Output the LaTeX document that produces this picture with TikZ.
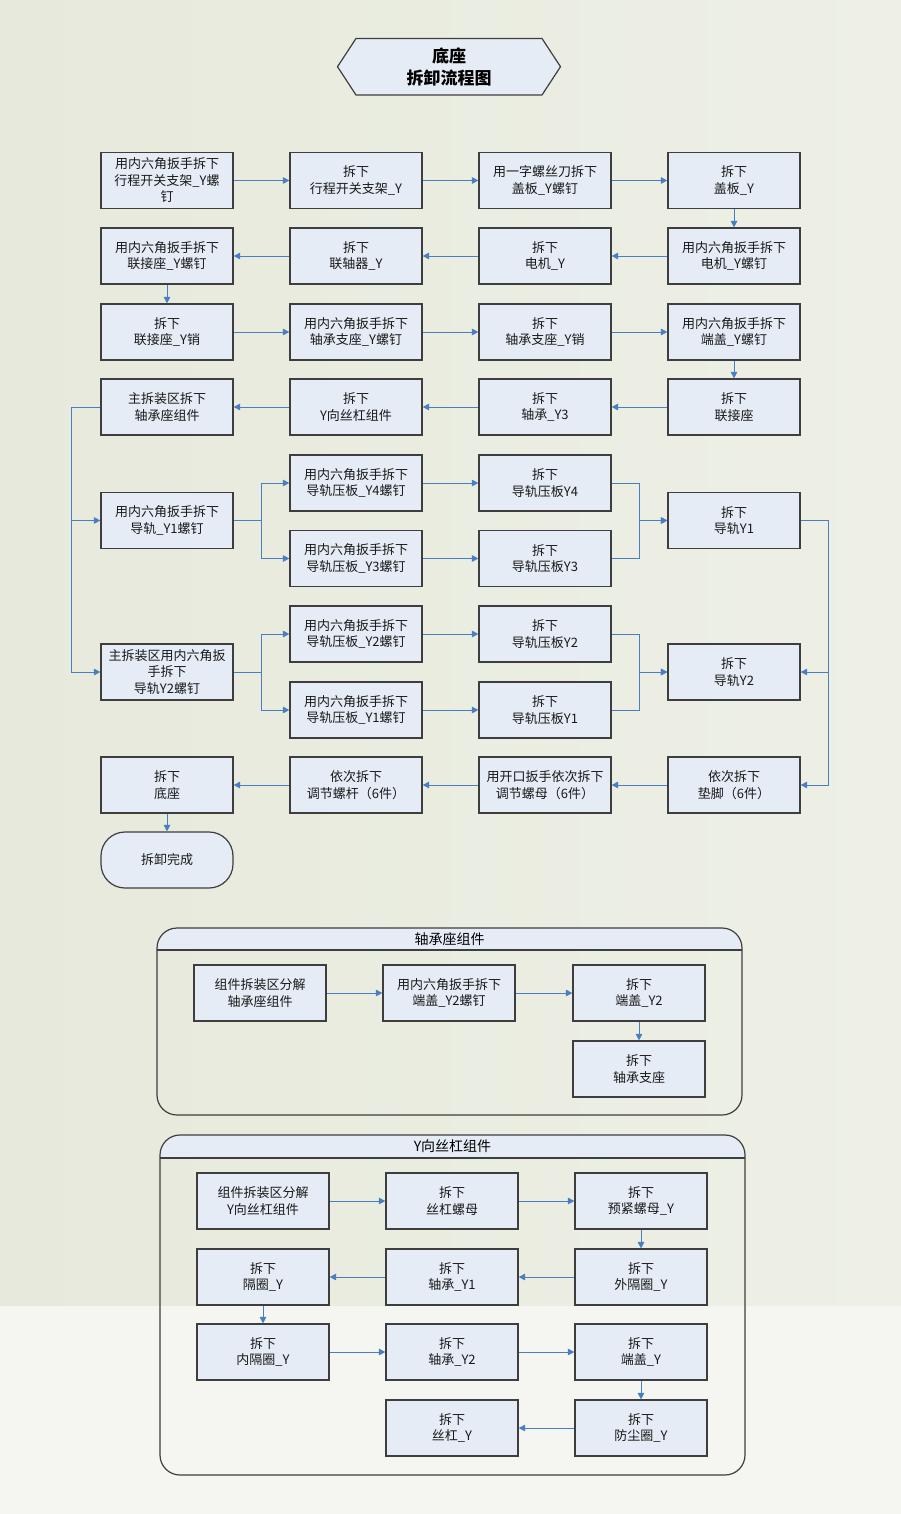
\documentclass[tikz,border=0pt]{standalone}
\usepackage{fontspec}
\setmainfont{Noto Sans CJK SC}
\usepackage{tikz}
\usetikzlibrary{arrows.meta,positioning}
\definecolor{boxfill}{RGB}{230,236,246}
\definecolor{boxline}{RGB}{62,62,62}
\definecolor{flowblue}{RGB}{74,126,196}
\definecolor{paperleft}{RGB}{230,233,219}
\definecolor{paperright}{RGB}{238,240,230}
\definecolor{paperlight}{RGB}{245,246,242}
\tikzset{
  stepbox/.style={
    draw=boxline,
    line width=1.2pt,
    fill=boxfill,
    minimum width=132pt,
    minimum height=56pt,
    text width=128pt,
    align=center,
    inner sep=2pt,
    text=black!90,
    font=\fontsize{13}{16.5}\selectfont
  },
  endbox/.style={stepbox, rounded corners=24pt},
  flowarrow/.style={
    draw=flowblue,
    line width=0.9pt,
    -{Triangle[length=6.5pt,width=6.5pt]}
  },
  grouptitle/.style={font=\fontsize{14}{16}\selectfont, inner sep=0pt},
  groupframe/.style={draw=boxline, line width=1.2pt, rounded corners=20pt}
}

\begin{document}
\begin{tikzpicture}[x=1pt,y=-1pt]
\useasboundingbox (0,0) rectangle (901,1514);
\shade[left color=paperleft, right color=paperright] (0,0) rectangle (901,1306);
\fill[paperlight] (0,1306) rectangle (901,1514);
\filldraw[fill=boxfill, draw=boxline, line width=1.2pt] (337.5,66.7) -- (356,38.5) -- (542,38.5) -- (560.5,66.7) -- (542,95) -- (356,95) -- cycle;
\node[font=\fontsize{17}{22}\selectfont\bfseries, align=center, inner sep=0pt] (title) at (449,66.7) {底座\\拆卸流程图};
\node[stepbox] (a1) at (167,180.5) {用内六角扳手拆下\\行程开关支架\_Y螺\\钉};
\node[stepbox] (a2) at (356,180.5) {拆下\\行程开关支架\_Y};
\node[stepbox] (a3) at (545,180.5) {用一字螺丝刀拆下\\盖板\_Y螺钉};
\node[stepbox] (a4) at (734,180.5) {拆下\\盖板\_Y};
\node[stepbox] (b4) at (734,256) {用内六角扳手拆下\\电机\_Y螺钉};
\node[stepbox] (b3) at (545,256) {拆下\\电机\_Y};
\node[stepbox] (b2) at (356,256) {拆下\\联轴器\_Y};
\node[stepbox] (b1) at (167,256) {用内六角扳手拆下\\联接座\_Y螺钉};
\node[stepbox] (c1) at (167,332) {拆下\\联接座\_Y销};
\node[stepbox] (c2) at (356,332) {用内六角扳手拆下\\轴承支座\_Y螺钉};
\node[stepbox] (c3) at (545,332) {拆下\\轴承支座\_Y销};
\node[stepbox] (c4) at (734,332) {用内六角扳手拆下\\端盖\_Y螺钉};
\node[stepbox] (d4) at (734,407) {拆下\\联接座};
\node[stepbox] (d3) at (545,407) {拆下\\轴承\_Y3};
\node[stepbox] (d2) at (356,407) {拆下\\Y向丝杠组件};
\node[stepbox] (d1) at (167,407) {主拆装区拆下\\轴承座组件};
\node[stepbox] (e0) at (167,520.5) {用内六角扳手拆下\\导轨\_Y1螺钉};
\node[stepbox] (e1) at (356,483) {用内六角扳手拆下\\导轨压板\_Y4螺钉};
\node[stepbox] (e2) at (545,483) {拆下\\导轨压板Y4};
\node[stepbox] (e3) at (356,558.5) {用内六角扳手拆下\\导轨压板\_Y3螺钉};
\node[stepbox] (e4) at (545,558.5) {拆下\\导轨压板Y3};
\node[stepbox] (e5) at (734,520.5) {拆下\\导轨Y1};
\node[stepbox] (f0) at (167,672) {主拆装区用内六角扳\\手拆下\\导轨Y2螺钉};
\node[stepbox] (f1) at (356,634) {用内六角扳手拆下\\导轨压板\_Y2螺钉};
\node[stepbox] (f2) at (545,634) {拆下\\导轨压板Y2};
\node[stepbox] (f3) at (356,710) {用内六角扳手拆下\\导轨压板\_Y1螺钉};
\node[stepbox] (f4) at (545,710) {拆下\\导轨压板Y1};
\node[stepbox] (f5) at (734,672) {拆下\\导轨Y2};
\node[stepbox] (g4) at (734,785) {依次拆下\\垫脚（6件）};
\node[stepbox] (g3) at (545,785) {用开口扳手依次拆下\\调节螺母（6件）};
\node[stepbox] (g2) at (356,785) {依次拆下\\调节螺杆（6件）};
\node[stepbox] (g1) at (167,785) {拆下\\底座};
\node[endbox] (done) at (167,860) {拆卸完成};
\draw[flowarrow] (a1) -- (a2);
\draw[flowarrow] (a2) -- (a3);
\draw[flowarrow] (a3) -- (a4);
\draw[flowarrow] (a4) -- (b4);
\draw[flowarrow] (b4) -- (b3);
\draw[flowarrow] (b3) -- (b2);
\draw[flowarrow] (b2) -- (b1);
\draw[flowarrow] (b1) -- (c1);
\draw[flowarrow] (c1) -- (c2);
\draw[flowarrow] (c2) -- (c3);
\draw[flowarrow] (c3) -- (c4);
\draw[flowarrow] (c4) -- (d4);
\draw[flowarrow] (d4) -- (d3);
\draw[flowarrow] (d3) -- (d2);
\draw[flowarrow] (d2) -- (d1);
\draw[flowarrow] (d1.west) -- ++(-29,0) |- (e0.west);
\draw[flowarrow] (d1.west) -- ++(-29,0) |- (f0.west);
\draw[flowarrow] (e0.east) -- ++(28,0) |- (e1.west);
\draw[flowarrow] (e0.east) -- ++(28,0) |- (e3.west);
\draw[flowarrow] (e1) -- (e2);
\draw[flowarrow] (e3) -- (e4);
\draw[flowarrow] (e2.east) -- ++(28,0) |- (e5.west);
\draw[flowarrow] (e4.east) -- ++(28,0) |- (e5.west);
\draw[flowarrow] (f0.east) -- ++(28,0) |- (f1.west);
\draw[flowarrow] (f0.east) -- ++(28,0) |- (f3.west);
\draw[flowarrow] (f1) -- (f2);
\draw[flowarrow] (f3) -- (f4);
\draw[flowarrow] (f2.east) -- ++(28,0) |- (f5.west);
\draw[flowarrow] (f4.east) -- ++(28,0) |- (f5.west);
\draw[flowarrow] (e5.east) -- ++(28,0) |- (f5.east);
\draw[flowarrow] (e5.east) -- ++(28,0) |- (g4.east);
\draw[flowarrow] (g4) -- (g3);
\draw[flowarrow] (g3) -- (g2);
\draw[flowarrow] (g2) -- (g1);
\draw[flowarrow] (g1) -- (done);
\begin{scope}
\clip (157,928) rectangle (742,950);
\fill[boxfill, rounded corners=20pt] (157,928) rectangle (742,1115);
\end{scope}
\draw[groupframe] (157,928) rectangle (742,1115);
\draw[boxline, line width=1.2pt] (157,950) -- (742,950);
\node[grouptitle] (bearinghead) at (449.5,939) {轴承座组件};
\node[stepbox] (h1) at (260,993) {组件拆装区分解\\轴承座组件};
\node[stepbox] (h2) at (449,993) {用内六角扳手拆下\\端盖\_Y2螺钉};
\node[stepbox] (h3) at (639,993) {拆下\\端盖\_Y2};
\node[stepbox] (h4) at (639,1069) {拆下\\轴承支座};
\draw[flowarrow] (h1) -- (h2);
\draw[flowarrow] (h2) -- (h3);
\draw[flowarrow] (h3) -- (h4);
\begin{scope}
\clip (160,1135) rectangle (745,1158);
\fill[boxfill, rounded corners=20pt] (160,1135) rectangle (745,1475);
\end{scope}
\draw[groupframe] (160,1135) rectangle (745,1475);
\draw[boxline, line width=1.2pt] (160,1158) -- (745,1158);
\node[grouptitle] (screwhead) at (452.5,1146.5) {Y向丝杠组件};
\node[stepbox] (k1) at (263,1201) {组件拆装区分解\\Y向丝杠组件};
\node[stepbox] (k2) at (452,1201) {拆下\\丝杠螺母};
\node[stepbox] (k3) at (641,1201) {拆下\\预紧螺母\_Y};
\node[stepbox] (k6) at (641,1277) {拆下\\外隔圈\_Y};
\node[stepbox] (k5) at (452,1277) {拆下\\轴承\_Y1};
\node[stepbox] (k4) at (263,1277) {拆下\\隔圈\_Y};
\node[stepbox] (k7) at (263,1352) {拆下\\内隔圈\_Y};
\node[stepbox] (k8) at (452,1352) {拆下\\轴承\_Y2};
\node[stepbox] (k9) at (641,1352) {拆下\\端盖\_Y};
\node[stepbox] (k11) at (641,1428) {拆下\\防尘圈\_Y};
\node[stepbox] (k10) at (452,1428) {拆下\\丝杠\_Y};
\draw[flowarrow] (k1) -- (k2);
\draw[flowarrow] (k2) -- (k3);
\draw[flowarrow] (k3) -- (k6);
\draw[flowarrow] (k6) -- (k5);
\draw[flowarrow] (k5) -- (k4);
\draw[flowarrow] (k4) -- (k7);
\draw[flowarrow] (k7) -- (k8);
\draw[flowarrow] (k8) -- (k9);
\draw[flowarrow] (k9) -- (k11);
\draw[flowarrow] (k11) -- (k10);
\end{tikzpicture}
\end{document}
